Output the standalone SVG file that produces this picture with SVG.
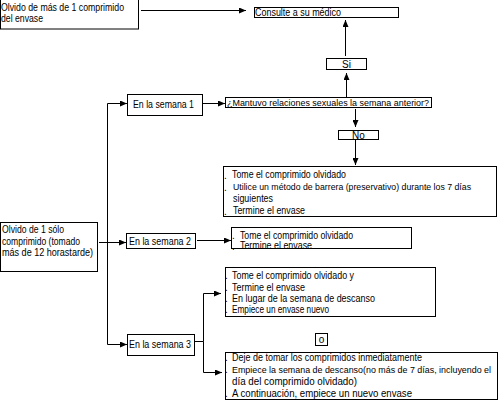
<svg xmlns="http://www.w3.org/2000/svg" width="500" height="402" viewBox="0 0 500 402">
<style>
.b{fill:#fff;stroke:#000;stroke-width:1}
.t{font-family:"Liberation Sans",Arial,sans-serif;font-size:10px;fill:#000}
.s{font-size:9px}
.c{stroke:#000;stroke-width:1;fill:none}
</style>
<defs>
<marker id="a" markerWidth="7" markerHeight="6" refX="7" refY="3" orient="auto" markerUnits="userSpaceOnUse">
<path d="M0,0 L7,3 L0,6 Z" fill="#000"/>
</marker>
</defs>
<rect width="500" height="402" fill="#fff"/>
<g id="connectors">
<path class="c" d="M141,10.5 H246" marker-end="url(#a)"/>
<path class="c" d="M345.5,56 V20" marker-end="url(#a)"/>
<path class="c" d="M346.5,97 V73" marker-end="url(#a)"/>
<path class="c" d="M203,103.5 H225" marker-end="url(#a)"/>
<path class="c" d="M355.5,109 V127" marker-end="url(#a)"/>
<path class="c" d="M355.5,140 V165" marker-end="url(#a)"/>
<path class="c" d="M107.5,344.5 V103.5 H127" marker-end="url(#a)"/>
<path class="c" d="M107.5,344.5 H127" marker-end="url(#a)"/>
<path class="c" d="M99,242.5 H126" marker-end="url(#a)"/>
<path class="c" d="M197,240.5 H231" marker-end="url(#a)"/>
<path class="c" d="M195,341.5 H203.5 V293.5 H221" marker-end="url(#a)"/>
<path class="c" d="M203.5,341.5 V372.5 H222" marker-end="url(#a)"/>
</g>
<g id="n1"><rect class="b" x="0.5" y="-0.5" width="138" height="29.5"/>
<text class="t" x="1" y="11" textLength="123" lengthAdjust="spacingAndGlyphs">Olvido de más de 1 comprimido</text>
<text class="t" x="1" y="22" textLength="42" lengthAdjust="spacingAndGlyphs">del envase</text></g>
<g id="n2"><rect class="b" x="254.5" y="7.5" width="144" height="10"/>
<text class="t" x="255" y="16" textLength="86" lengthAdjust="spacingAndGlyphs">Consulte a su médico</text></g>
<g id="n3"><rect class="b" x="326.5" y="58.5" width="40" height="11"/>
<text class="t" x="346.5" y="67.5" text-anchor="middle">Si</text></g>
<g id="n4"><rect class="b" x="225.5" y="97.5" width="206" height="10"/>
<text class="t s" x="227" y="106" textLength="202" lengthAdjust="spacingAndGlyphs">¿Mantuvo relaciones sexuales la semana anterior?</text></g>
<g id="n5"><rect class="b" x="338.5" y="130.5" width="40" height="9"/>
<text class="t" x="358.5" y="138.5" text-anchor="middle">No</text></g>
<g id="n6"><rect class="b" x="223.5" y="166.5" width="273" height="50"/>
<text class="t" x="224" y="179">.</text><text class="t" x="232" y="178" textLength="114" lengthAdjust="spacingAndGlyphs">Tome el comprimido olvidado</text>
<text class="t" x="224" y="191">.</text><text class="t s" x="233" y="190" textLength="238" lengthAdjust="spacingAndGlyphs">Utilice un método de barrera (preservativo) durante los 7 días</text>
<text class="t" x="233" y="202" textLength="40" lengthAdjust="spacingAndGlyphs">siguientes</text>
<text class="t" x="224" y="215">.</text><text class="t" x="233" y="214" textLength="72" lengthAdjust="spacingAndGlyphs">Termine el envase</text></g>
<g id="n7"><rect class="b" x="127.5" y="94.5" width="75" height="21"/>
<text class="t" x="133" y="108" textLength="61" lengthAdjust="spacingAndGlyphs">En la semana 1</text></g>
<g id="n8"><rect class="b" x="0.5" y="222.5" width="97" height="49"/>
<text class="t" x="2" y="232.5" textLength="62" lengthAdjust="spacingAndGlyphs">Olvido de 1 sólo</text>
<text class="t" x="2" y="244.5" textLength="78" lengthAdjust="spacingAndGlyphs">comprimido (tomado</text>
<text class="t" x="2" y="256" textLength="91" lengthAdjust="spacingAndGlyphs">más de 12 horastarde)</text></g>
<g id="n9"><rect class="b" x="126.5" y="233.5" width="69" height="15"/>
<text class="t" x="129" y="245" textLength="62" lengthAdjust="spacingAndGlyphs">En la semana 2</text></g>
<g id="n10"><rect class="b" x="231.5" y="227.5" width="180" height="21"/>
<text class="t" x="232" y="239">.</text><text class="t" x="240" y="238.5" textLength="113" lengthAdjust="spacingAndGlyphs">Tome el comprimido olvidado</text>
<text class="t" x="232" y="250">.</text><text class="t" x="240" y="248.5" textLength="72" lengthAdjust="spacingAndGlyphs">Termine el envase</text></g>
<g id="n11"><rect class="b" x="127.5" y="334.5" width="67" height="21"/>
<text class="t" x="129" y="348" textLength="62" lengthAdjust="spacingAndGlyphs">En la semana 3</text></g>
<g id="n12"><rect class="b" x="225.5" y="267.5" width="210" height="49"/>
<text class="t" x="225" y="279">.</text><text class="t" x="232" y="278.5" textLength="122" lengthAdjust="spacingAndGlyphs">Tome el comprimido olvidado y</text>
<text class="t" x="225" y="291">.</text><text class="t" x="232" y="290.5" textLength="73" lengthAdjust="spacingAndGlyphs">Termine el envase</text>
<text class="t" x="225" y="302">.</text><text class="t" x="232" y="301.5" textLength="143" lengthAdjust="spacingAndGlyphs">En lugar de la semana de descanso</text>
<text class="t" x="225" y="313">.</text><text class="t" x="232" y="312.5" textLength="97" lengthAdjust="spacingAndGlyphs">Empiece  un envase nuevo</text></g>
<g id="n13"><rect class="b" x="315.5" y="333.5" width="12" height="12"/>
<text class="t" x="321.5" y="342.5" text-anchor="middle">o</text></g>
<g id="n14"><rect class="b" x="225.5" y="352.5" width="272" height="47"/>
<text class="t" x="225" y="361">.</text><text class="t" x="232" y="360.5" textLength="190" lengthAdjust="spacingAndGlyphs">Deje de tomar los comprimidos inmediatamente</text>
<text class="t" x="225" y="373">.</text><text class="t s" x="232" y="372.5" textLength="259" lengthAdjust="spacingAndGlyphs">Empiece  la semana de descanso(no más de 7 días, incluyendo el</text>
<text class="t" x="232" y="384.5" textLength="125" lengthAdjust="spacingAndGlyphs">día del comprimido olvidado)</text>
<text class="t" x="225" y="397">.</text><text class="t" x="232" y="396.5" textLength="180" lengthAdjust="spacingAndGlyphs">A continuación, empiece un nuevo envase</text></g>
</svg>
